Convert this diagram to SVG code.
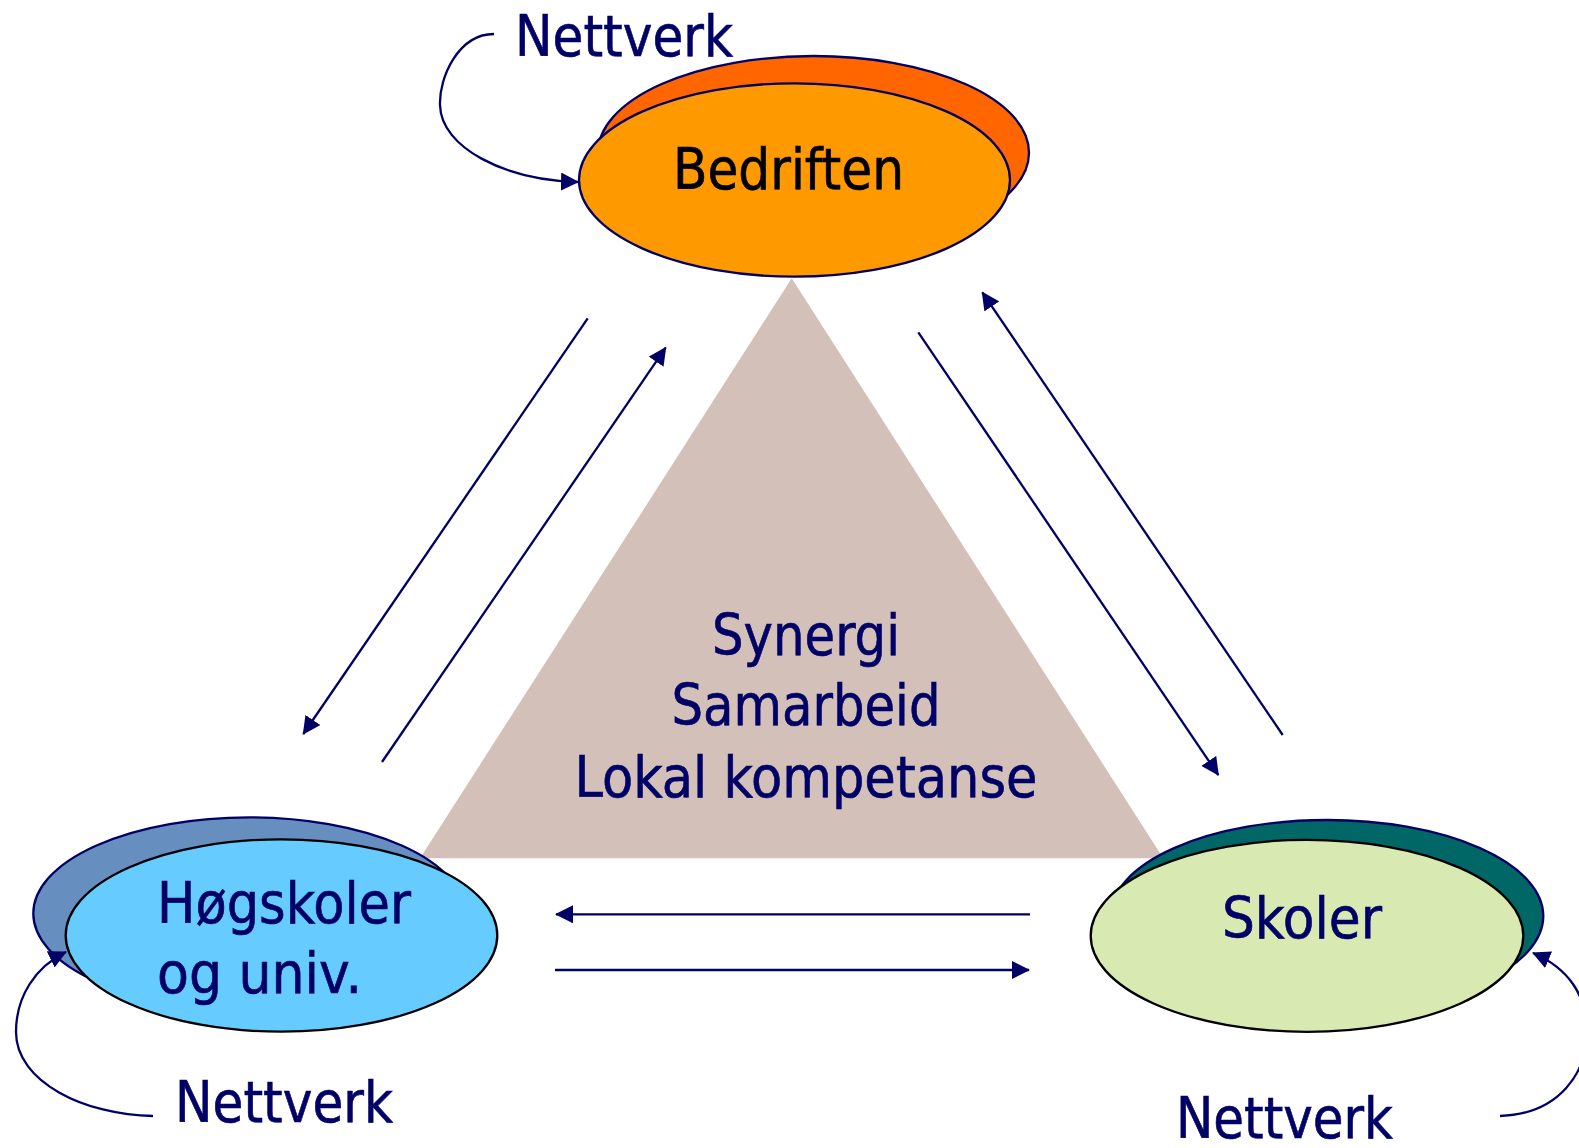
<svg xmlns="http://www.w3.org/2000/svg" width="1579" height="1148" viewBox="0 0 1579 1148">
  <style>
    .t { font-family: "DejaVu Sans Condensed", "DejaVu Sans", Tahoma, Verdana, sans-serif; font-size: 57px; stroke-width: 0.6; }
    .navy { fill: #000066; stroke: #000066; }
    .blk { fill: #000000; stroke: #000000; }
    .conn { fill: none; stroke: #000066; stroke-width: 2.3; marker-end: url(#arr); }
    .curve { fill: none; stroke: #000066; stroke-width: 2.3; marker-end: url(#arr); }
    .back { stroke: #000066; stroke-width: 2.3; }
    .frontN { stroke: #000066; stroke-width: 2.3; }
    .frontK { stroke: #000000; stroke-width: 2.3; }
  </style>
  <defs>
    <marker id="arr" markerUnits="userSpaceOnUse" markerWidth="18" markerHeight="18" refX="17" refY="9" orient="auto">
      <path d="M0,0 L18,9 L0,18 z" fill="#000066"/>
    </marker>
  </defs>
  <rect width="1579" height="1148" fill="#ffffff"/>

  <g id="center">
    <polygon points="791.7,278.3 420,858.3 1163.3,858.3" fill="#D2C0B9"/>
    <text class="t navy" x="806" y="655" text-anchor="middle" textLength="188" lengthAdjust="spacingAndGlyphs">Synergi</text>
    <text class="t navy" x="806" y="725" text-anchor="middle" textLength="269" lengthAdjust="spacingAndGlyphs">Samarbeid</text>
    <text class="t navy" x="806" y="796.5" text-anchor="middle" textLength="463" lengthAdjust="spacingAndGlyphs">Lokal kompetanse</text>
  </g>

  <g id="node-bedriften">
    <ellipse class="back" cx="813.5" cy="152.7" rx="215.5" ry="96.7" fill="#FF6600"/>
    <ellipse class="frontN" cx="794.5" cy="180" rx="215.5" ry="96.7" fill="#FF9900"/>
    <text class="t blk" x="788.5" y="188.5" text-anchor="middle" textLength="231" lengthAdjust="spacingAndGlyphs">Bedriften</text>
  </g>

  <g id="node-hogskoler">
    <ellipse class="back" cx="249.1" cy="913.5" rx="215.8" ry="96.2" fill="#668FBF"/>
    <ellipse class="frontK" cx="281.5" cy="935.5" rx="215.8" ry="96.2" fill="#66CCFF"/>
    <text class="t navy" x="157" y="922.7" textLength="254" lengthAdjust="spacingAndGlyphs">Høgskoler</text>
    <text class="t navy" x="157" y="992.7" textLength="205" lengthAdjust="spacingAndGlyphs">og univ.</text>
  </g>

  <g id="node-skoler">
    <ellipse class="back" cx="1327" cy="916" rx="216.3" ry="96" fill="#006666"/>
    <ellipse class="frontK" cx="1307" cy="935.8" rx="216.3" ry="96" fill="#D8E9B2"/>
    <text class="t navy" x="1302" y="938" text-anchor="middle" textLength="160" lengthAdjust="spacingAndGlyphs">Skoler</text>
  </g>

  <g id="connectors">
    <line class="conn" x1="587.7" y1="318.3" x2="303.3" y2="734"/>
    <line class="conn" x1="382" y1="762" x2="665.7" y2="347.7"/>
    <line class="conn" x1="918.3" y1="332.3" x2="1218.3" y2="775"/>
    <line class="conn" x1="1282.7" y1="735" x2="982.3" y2="292.3"/>
    <line class="conn" x1="1030" y1="914.3" x2="556" y2="914.3"/>
    <line class="conn" x1="555" y1="970" x2="1029" y2="970"/>
    <path class="curve" d="M494,34 C458,34 439,78 440,105 C441,148 505,180 578,182"/>
    <path class="curve" d="M153,1116 C85,1115 16,1082 16,1032 C16,997 35,967 66,952"/>
    <path class="curve" d="M1500,1116 C1560,1114 1587,1072 1587,1032 C1587,995 1568,968 1533,953"/>
  </g>

  <g id="labels">
    <text class="t navy" x="515" y="56" textLength="218" lengthAdjust="spacingAndGlyphs">Nettverk</text>
    <text class="t navy" x="175" y="1122" textLength="218" lengthAdjust="spacingAndGlyphs">Nettverk</text>
    <text class="t navy" x="1176" y="1138" textLength="217" lengthAdjust="spacingAndGlyphs">Nettverk</text>
  </g>
</svg>
